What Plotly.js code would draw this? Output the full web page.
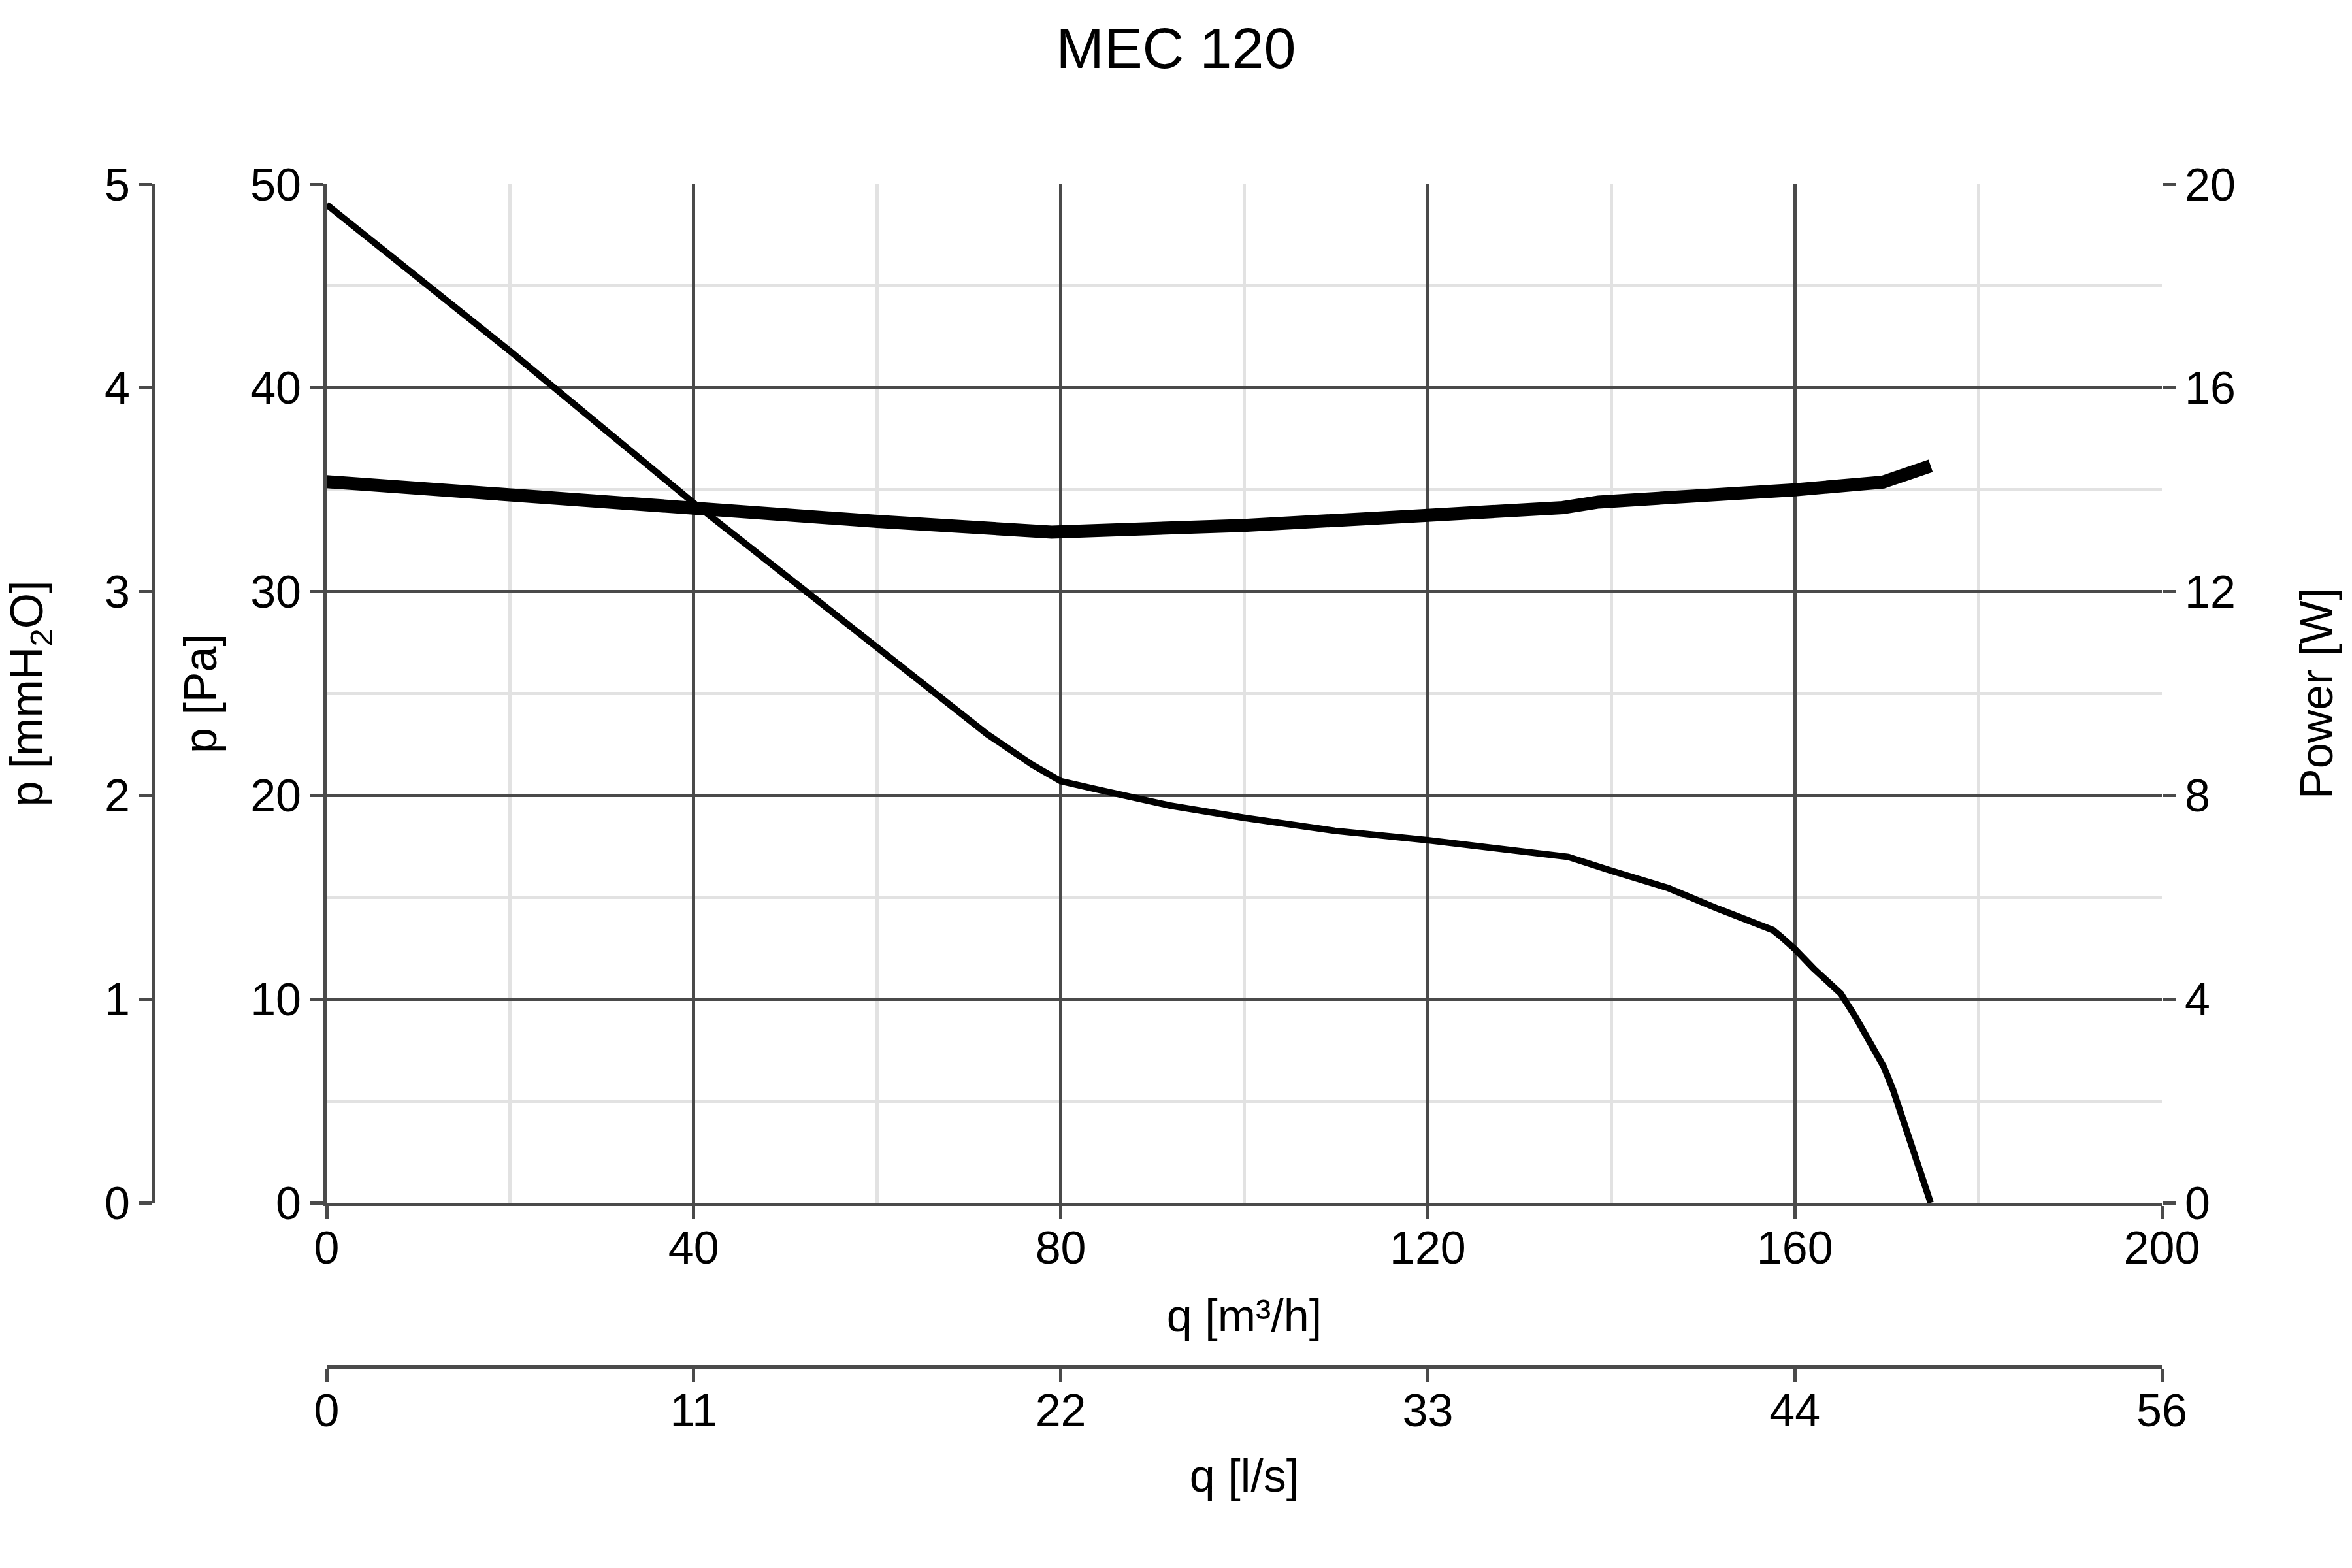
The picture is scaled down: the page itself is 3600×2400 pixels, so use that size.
<!DOCTYPE html>
<html>
<head>
<meta charset="utf-8">
<script src="https://cdn.plot.ly/plotly-3.0.1.min.js"></script>
<style>
    html, body { margin: 0; padding: 0; background: #fff; }
    #plotly__graph { width: 3600px; height: 2400px; }
</style>
</head>
<body>
<div id="plotly__graph"></div>
<script>
// **********************************************************************************************
// DATA

// pressure curve, q in m3/h, p in Pa
const q_pressure = [0, 20, 40, 60, 72, 76.9, 80, 83.9, 86.9, 91.9, 100, 109.9, 120, 135.3, 140, 146.2, 151.6, 157.6, 158.4, 160, 162, 165, 166.6, 169.7, 170.7, 174.8];
const p_pressure = [49, 41.8, 34.35, 27.2, 23.0, 21.5, 20.7, 20.3, 20.0, 19.5, 18.9, 18.26, 17.8, 16.98, 16.3, 15.45, 14.44, 13.39, 13.1, 12.46, 11.52, 10.27, 9.13, 6.67, 5.55, 0];

// power curve, q in m3/h, power in W
const q_power = [0, 20, 40, 60, 79, 91, 100, 120, 134.7, 138.6, 145.7, 151.2, 160, 169.6, 174.8];
const w_power = [14.16, 13.89, 13.63, 13.38, 13.17, 13.23, 13.30, 13.50, 13.65, 13.76, 13.83, 13.91, 14.0, 14.15, 14.47];

// second flow scale in l/s
const ls_tickvals = [0, 40 / 3.6, 80 / 3.6, 120 / 3.6, 160 / 3.6, 200 / 3.6];
const ls_ticktext = ['0', '11', '22', '33', '44', '56'];

const plotly_graph = () => {
    // **********************************************************************************************
    // PARENT / CHILD

    const div = document.getElementById('plotly__graph');

    const font = 'Liberation Sans, Arial, sans-serif';
    const axis_color = '#4a4a4a';

    // **********************************************************************************************
    // TRACES

    let trace_pressure = {
        name: 'p',
        type: 'scatter',
        mode: 'lines',
        x: q_pressure,
        y: p_pressure,
        xaxis: 'x',
        yaxis: 'y',
        line: { color: '#000', width: 10 },
        hoverinfo: 'skip'
    };

    let trace_power = {
        name: 'Power',
        type: 'scatter',
        mode: 'lines',
        x: q_power,
        y: w_power,
        xaxis: 'x',
        yaxis: 'y2',
        line: { color: '#000', width: 20 },
        hoverinfo: 'skip'
    };

    // same pressure curve in l/s and mmH2O, kept invisible so the extra axes get drawn
    let trace_pressure_alt = {
        name: 'p (mmH2O)',
        type: 'scatter',
        mode: 'lines',
        x: q_pressure.map(q => q / 3.6),
        y: p_pressure.map(p => p / 10),
        xaxis: 'x2',
        yaxis: 'y3',
        opacity: 0,
        line: { color: '#000', width: 0 },
        hoverinfo: 'skip'
    };

    let data = [trace_pressure_alt, trace_pressure, trace_power];

    // **********************************************************************************************
    // LAYOUT

    const base_axis = {
        showline: true,
        linecolor: axis_color,
        linewidth: 5,
        ticks: 'outside',
        ticklen: 20,
        tickwidth: 5,
        tickcolor: axis_color,
        zeroline: false,
        fixedrange: true,
        tickfont: { family: font, size: 70, color: '#000' }
    };

    let layout = {
        width: 3600,
        height: 2400,
        paper_bgcolor: '#fff',
        plot_bgcolor: '#fff',
        showlegend: false,
        margin: { t: 282, r: 291, b: 308, l: 235, pad: 0 },
        title: {
            text: 'MEC 120',
            font: { family: font, size: 88, color: '#000' },
            xref: 'container', x: 0.5, xanchor: 'center',
            yref: 'container', y: 1 - 73 / 2400, yanchor: 'middle'
        },
        xaxis: Object.assign({}, base_axis, {
            domain: [265 / 3074, 1],
            anchor: 'y',
            range: [0, 200],
            dtick: 40,
            ticklabelstandoff: -16,
            showgrid: true,
            gridcolor: axis_color,
            gridwidth: 5,
            minor: { dtick: 20, showgrid: true, gridcolor: '#e2e2e2', gridwidth: 5, ticks: '' },
            title: { text: 'q [m³/h]', font: { family: font, size: 70, color: '#000' }, standoff: 42 }
        }),
        xaxis2: Object.assign({}, base_axis, {
            overlaying: 'x',
            domain: [265 / 3074, 1],
            anchor: 'free',
            position: 0,
            side: 'bottom',
            range: [0, 200 / 3.6],
            tickmode: 'array',
            tickvals: ls_tickvals,
            ticktext: ls_ticktext,
            ticklabelstandoff: -16,
            showgrid: false,
            title: { text: 'q [l/s]', font: { family: font, size: 70, color: '#000' }, standoff: 36 }
        }),
        yaxis: Object.assign({}, base_axis, {
            domain: [251 / 1810, 1],
            anchor: 'x',
            range: [0, 50],
            dtick: 10,
            showgrid: true,
            gridcolor: axis_color,
            gridwidth: 5,
            minor: { dtick: 5, showgrid: true, gridcolor: '#e2e2e2', gridwidth: 5, ticks: '' },
            title: { text: 'p [Pa]', font: { family: font, size: 70, color: '#000' }, standoff: 30 }
        }),
        yaxis2: Object.assign({}, base_axis, {
            overlaying: 'y',
            anchor: 'x',
            side: 'right',
            range: [0, 20],
            dtick: 4,
            showline: false,
            showgrid: false,
            title: { text: 'Power [W]', font: { family: font, size: 70, color: '#000' }, standoff: 100 }
        }),
        yaxis3: Object.assign({}, base_axis, {
            overlaying: 'y',
            anchor: 'free',
            position: 0,
            side: 'left',
            range: [0, 5],
            dtick: 1,
            showgrid: false,
            title: { text: 'p [mmH<sub>2</sub>O]', font: { family: font, size: 70, color: '#000' }, standoff: 70 }
        })
    };

    // **********************************************************************************************
    // CONFIG

    const config = {
        responsive: false,
        displaylogo: false,
        displayModeBar: false,
        staticPlot: true
    };

    // **********************************************************************************************
    // CREATE AND APPEND

    Plotly.newPlot(div, data, layout, config);
};

plotly_graph();
</script>
</body>
</html>
